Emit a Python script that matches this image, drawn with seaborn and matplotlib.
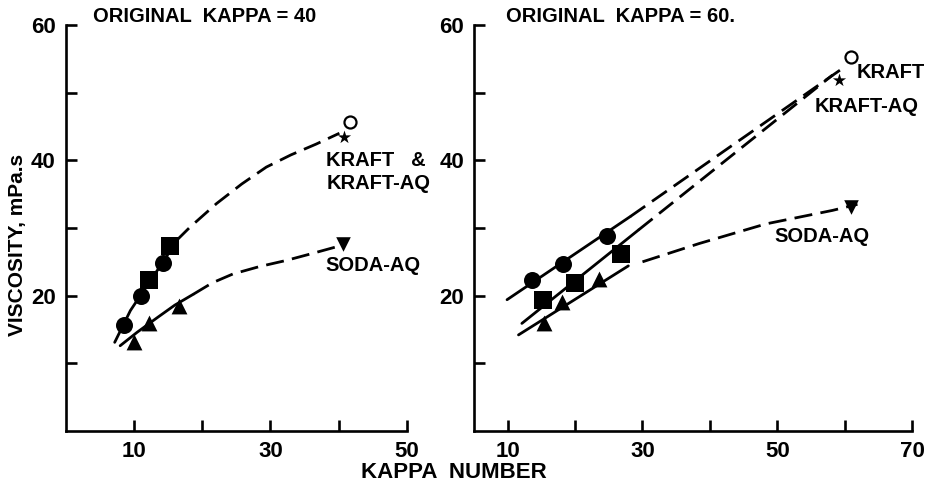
import matplotlib
matplotlib.use("Agg")
import matplotlib.pyplot as plt
import seaborn as sns

# ---- left panel: original kappa = 40 ----
L_CIRC_X = [8.6, 11.1, 14.2]
L_CIRC_Y = [15.6, 20.0, 24.9]
L_SQ_X = [12.2, 15.3]
L_SQ_Y = [22.3, 27.4]
L_TRI_X = [10.0, 12.2, 16.6]
L_TRI_Y = [13.1, 15.9, 18.4]
L_OPEN_X, L_OPEN_Y = [41.7], [45.6]
L_STAR_X, L_STAR_Y = [40.8], [43.5]
L_DTRI_X, L_DTRI_Y = [40.6], [27.7]

L_KRAFT_SOLID_X = [7.2, 9.5, 12.0, 14.5, 16.2]
L_KRAFT_SOLID_Y = [13.1, 17.8, 21.6, 25.3, 28.1]
L_KRAFT_DASH_X = [16.2, 18.2, 22.1, 25.8, 29.4, 33.0, 36.7, 40.1]
L_KRAFT_DASH_Y = [28.1, 30.1, 33.6, 36.5, 39.0, 40.8, 42.4, 44.0]
L_SODA_SOLID_X = [8.0, 10.5, 13.5, 16.0, 18.7]
L_SODA_SOLID_Y = [12.6, 14.6, 16.8, 18.6, 20.2]
L_SODA_DASH_X = [18.7, 21.5, 24.5, 28.4, 32.3, 36.0, 39.6]
L_SODA_DASH_Y = [20.2, 21.9, 23.2, 24.3, 25.2, 26.2, 27.2]

# ---- right panel: original kappa = 60 ----
R_CIRC_X = [13.6, 18.2, 24.7]
R_CIRC_Y = [22.3, 24.7, 28.8]
R_SQ_X = [15.2, 20.0, 26.8]
R_SQ_Y = [19.4, 21.9, 26.1]
R_TRI_X = [15.4, 18.0, 23.6]
R_TRI_Y = [16.0, 19.1, 22.4]
R_OPEN_X, R_OPEN_Y = [60.9], [55.3]
R_STAR_X, R_STAR_Y = [59.2], [51.9]
R_DTRI_X, R_DTRI_Y = [60.9], [33.1]

R_KRAFT_SOLID_X = [9.9, 28.2]
R_KRAFT_SOLID_Y = [19.4, 31.7]
R_KRAFT_DASH_X = [28.2, 59.7]
R_KRAFT_DASH_Y = [31.7, 53.6]
R_KAQ_SOLID_X = [12.1, 29.4]
R_KAQ_SOLID_Y = [15.9, 29.7]
R_KAQ_DASH_X = [29.4, 58.2]
R_KAQ_DASH_Y = [29.7, 52.6]
R_SODA_SOLID_X = [11.6, 27.9]
R_SODA_SOLID_Y = [14.2, 24.4]
R_SODA_DASH_X = [30.0, 38.4, 48.3, 58.2, 61.9]
R_SODA_DASH_Y = [25.0, 27.7, 30.6, 32.6, 33.5]

sns.set_theme(style="ticks")
plt.rcParams["font.family"] = ["Liberation Sans", "DejaVu Sans"]
plt.rcParams["font.weight"] = "bold"
plt.rcParams["text.color"] = "black"
plt.rcParams["axes.labelcolor"] = "black"
plt.rcParams["xtick.color"] = "black"
plt.rcParams["ytick.color"] = "black"

DASH = (6.5, 3)
LW = 2.0
TXT = 14.5


def line(ax, xs, ys, dashed=False):
    sns.lineplot(x=xs, y=ys, ax=ax, color="black", linewidth=LW, sort=False,
                 estimator=None, linestyle=(0, DASH) if dashed else "-")


def points(ax, xs, ys, marker, size, filled=True):
    sns.scatterplot(x=xs, y=ys, ax=ax, marker=marker, s=size,
                    color="black" if filled else "white",
                    edgecolor="black", linewidth=1.6 if not filled else 0,
                    zorder=5)


def style_axes(ax, xlim, xticks, xlabels):
    ax.set_xlim(*xlim)
    ax.set_ylim(0, 60)
    ax.set_xticks(xticks)
    ax.set_xticklabels(xlabels)
    ax.set_yticks([10, 20, 30, 40, 50, 60])
    ax.set_yticklabels(["", "20", "", "40", "", "60"])
    for side in ["top", "right"]:
        ax.spines[side].set_visible(False)
    for side in ["left", "bottom"]:
        ax.spines[side].set_linewidth(1.9)
        ax.spines[side].set_color("black")
    ax.tick_params(direction="in", length=8, width=1.9, colors="black",
                   labelsize=16, pad=7)
    ax.set_facecolor("white")


fig = plt.figure(figsize=(9.32, 4.87), dpi=100)
ax1 = fig.add_axes([0.0703, 0.115, 0.3664, 0.8337])
ax2 = fig.add_axes([0.5086, 0.115, 0.4700, 0.8337])

# left panel
line(ax1, L_KRAFT_SOLID_X, L_KRAFT_SOLID_Y)
line(ax1, L_KRAFT_DASH_X, L_KRAFT_DASH_Y, dashed=True)
line(ax1, L_SODA_SOLID_X, L_SODA_SOLID_Y)
line(ax1, L_SODA_DASH_X, L_SODA_DASH_Y, dashed=True)
points(ax1, L_CIRC_X, L_CIRC_Y, "o", 150)
points(ax1, L_SQ_X, L_SQ_Y, "s", 150)
points(ax1, L_TRI_X, L_TRI_Y, "^", 130)
points(ax1, L_OPEN_X, L_OPEN_Y, "o", 75, filled=False)
points(ax1, L_STAR_X, L_STAR_Y, "*", 100)
points(ax1, L_DTRI_X, L_DTRI_Y, "v", 110)
style_axes(ax1, (0, 50), [10, 20, 30, 40, 50], ["10", "", "30", "", "50"])
ax1.text(38.2, 38.3, "KRAFT   &\nKRAFT-AQ", fontsize=TXT, fontweight="bold",
         va="center", ha="left", linespacing=1.3)
ax1.text(38.0, 24.5, "SODA-AQ", fontsize=TXT, fontweight="bold",
         va="center", ha="left")

# right panel
line(ax2, R_KRAFT_SOLID_X, R_KRAFT_SOLID_Y)
line(ax2, R_KRAFT_DASH_X, R_KRAFT_DASH_Y, dashed=True)
line(ax2, R_KAQ_SOLID_X, R_KAQ_SOLID_Y)
line(ax2, R_KAQ_DASH_X, R_KAQ_DASH_Y, dashed=True)
line(ax2, R_SODA_SOLID_X, R_SODA_SOLID_Y)
line(ax2, R_SODA_DASH_X, R_SODA_DASH_Y, dashed=True)
points(ax2, R_CIRC_X, R_CIRC_Y, "o", 150)
points(ax2, R_SQ_X, R_SQ_Y, "s", 150)
points(ax2, R_TRI_X, R_TRI_Y, "^", 130)
points(ax2, R_OPEN_X, R_OPEN_Y, "o", 75, filled=False)
points(ax2, R_STAR_X, R_STAR_Y, "*", 100)
points(ax2, R_DTRI_X, R_DTRI_Y, "v", 110)
style_axes(ax2, (5, 70), [10, 20, 30, 40, 50, 60, 70],
           ["10", "", "30", "", "50", "", "70"])
ax2.text(61.8, 53.0, "KRAFT", fontsize=TXT, fontweight="bold", va="center", ha="left")
ax2.text(55.5, 47.9, "KRAFT-AQ", fontsize=TXT, fontweight="bold", va="center", ha="left")
ax2.text(49.5, 28.7, "SODA-AQ", fontsize=TXT, fontweight="bold", va="center", ha="left")

fig.text(93 / 932, 1 - 17 / 487, "ORIGINAL  KAPPA = 40", fontsize=TXT,
         fontweight="bold", va="center", ha="left")
fig.text(506 / 932, 1 - 17 / 487, "ORIGINAL  KAPPA = 60.", fontsize=TXT,
         fontweight="bold", va="center", ha="left")
fig.text(18 / 932, 1 - 245 / 487, "VISCOSITY, mPa.s", fontsize=15,
         fontweight="bold", rotation=90, va="center", ha="center")
fig.text(454 / 932, 1 - 472 / 487, "KAPPA  NUMBER", fontsize=16,
         fontweight="bold", va="center", ha="center")

fig.savefig("out.png", dpi=100, facecolor="white")
